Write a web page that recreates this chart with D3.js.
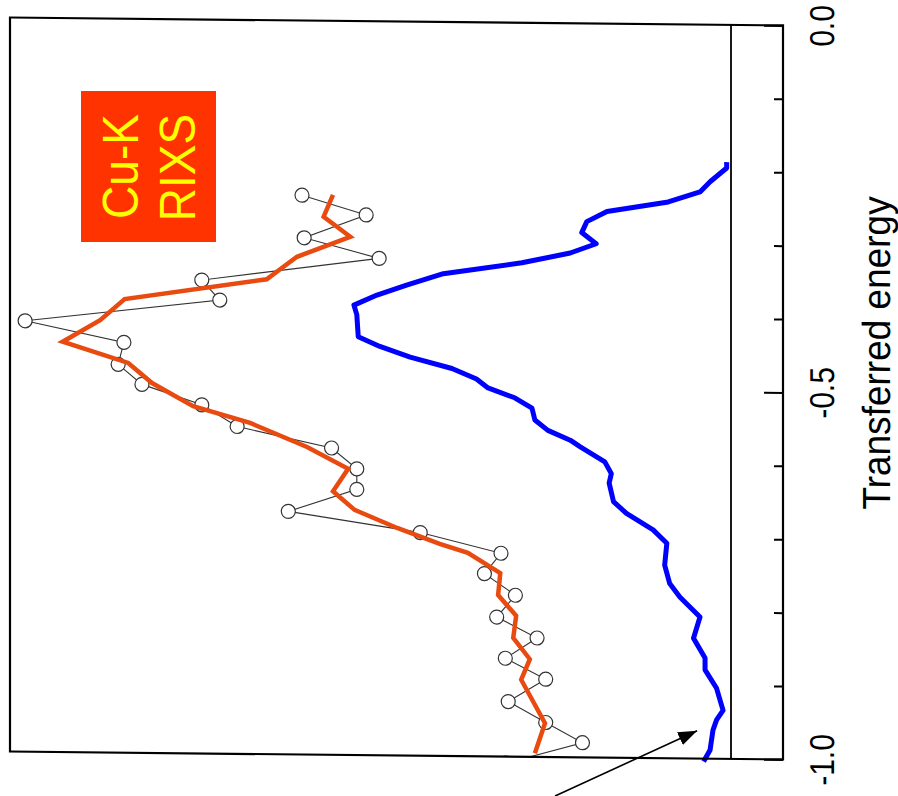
<!DOCTYPE html>
<html lang="en">
<head>
    <meta charset="UTF-8" />
    <script src="https://d3js.org/d3.v7.min.js"></script>
    <title>Cu-K RIXS</title>
    <style>
        body {
            margin: 0;
            overflow: hidden;
            background: white;
        }

        text {
            font-family: "Liberation Sans", Arial, sans-serif;
        }
    </style>
</head>
<body>
    <script>
        // energy axis (runs down the right side)
        const majorTicks = [0, -0.5, -1.0];
        const tickLabels = ["0.0", "-0.5", "-1.0"];
        const minorTicks = [-0.1, -0.2, -0.3, -0.4, -0.6, -0.7, -0.8, -0.9];

        // blue spectrum
        const blueEnergy = [-0.187, -0.195, -0.214, -0.228, -0.242, -0.256, -0.270, -0.285, -0.300, -0.313,
            -0.327, -0.343, -0.359, -0.373, -0.387, -0.400, -0.430, -0.443, -0.457, -0.472,
            -0.486, -0.498, -0.511, -0.525, -0.541, -0.555, -0.568, -0.577, -0.597, -0.613,
            -0.626, -0.651, -0.667, -0.689, -0.707, -0.737, -0.762, -0.780, -0.807, -0.836,
            -0.863, -0.879, -0.904, -0.934, -0.947, -0.961, -0.988, -1.004];
        const blueIntensity = [0.006, 0.006, 0.029, 0.043, 0.087, 0.172, 0.200, 0.207, 0.187, 0.223,
            0.290, 0.399, 0.450, 0.491, 0.523, 0.519, 0.517, 0.487, 0.445, 0.387,
            0.353, 0.337, 0.300, 0.276, 0.272, 0.254, 0.223, 0.209, 0.175, 0.166,
            0.169, 0.163, 0.145, 0.108, 0.089, 0.092, 0.085, 0.071, 0.043, 0.052,
            0.036, 0.036, 0.020, 0.011, 0.020, 0.025, 0.029, 0.038];

        // orange (smoothed) curve
        const orangeEnergy = [-0.237, -0.267, -0.294, -0.322, -0.353, -0.382, -0.411, -0.441, -0.469, -0.496,
            -0.527, -0.549, -0.581, -0.610, -0.641, -0.666, -0.690, -0.711, -0.723, -0.750,
            -0.780, -0.808, -0.838, -0.867, -0.895, -0.954, -0.995];
        const orangeIntensity = [0.552, 0.565, 0.528, 0.602, 0.644, 0.841, 0.875, 0.927, 0.836, 0.803,
            0.746, 0.667, 0.588, 0.531, 0.552, 0.522, 0.463, 0.404, 0.365, 0.320,
            0.323, 0.298, 0.302, 0.279, 0.291, 0.258, 0.272];

        // open circles (raw points)
        const pointEnergy = [-0.238, -0.264, -0.296, -0.323, -0.355, -0.382, -0.413, -0.441, -0.471, -0.498,
            -0.525, -0.554, -0.582, -0.610, -0.638, -0.669, -0.696, -0.723, -0.751, -0.780,
            -0.810, -0.838, -0.866, -0.894, -0.925, -0.953, -0.980, -1.009];
        const pointIntensity = [0.595, 0.506, 0.592, 0.488, 0.734, 0.709, 0.979, 0.842, 0.850, 0.817,
            0.734, 0.685, 0.554, 0.519, 0.519, 0.614, 0.431, 0.319, 0.342, 0.299,
            0.325, 0.269, 0.313, 0.257, 0.309, 0.257, 0.206, 0.312];

        // arrow annotation: [energy, intensity] of tail and head
        const arrowFrom = [-1.053, 0.244];
        const arrowTo = [-0.962, 0.047];

        const width = 898;
        const height = 796;

        const svg = d3.select('body')
            .append('svg')
            .attr('width', width)
            .attr('height', height);

        // the source picture is very slightly sheared
        const g = svg.append('g').attr('transform', 'skewY(0.59)');

        const y = d3.scaleLinear().domain([0, -1]).range([17.4, 751.4]);
        const x = d3.scaleLinear().domain([0, 1]).range([731, 10]);
        const right = 783;

        svg.append('defs').append('clipPath').attr('id', 'plotclip')
            .append('rect')
            .attr('x', 10).attr('y', y(0))
            .attr('width', right - 10).attr('height', y(-1) - y(0));

        svg.select('defs').append('marker')
            .attr('id', 'head')
            .attr('markerUnits', 'userSpaceOnUse')
            .attr('markerWidth', 19).attr('markerHeight', 14)
            .attr('refX', 19).attr('refY', 7)
            .attr('orient', 'auto')
            .append('path')
            .attr('d', 'M0,0 L19,7 L0,14 Z')
            .attr('fill', 'black');

        // Cu-K RIXS label box (not sheared)
        svg.append('rect')
            .attr('x', 81).attr('y', 91)
            .attr('width', 135).attr('height', 151)
            .attr('fill', '#ff3300');
        [["Cu-K", 138, 166.5], ["RIXS", 195, 167.5]].forEach(([t, tx, ty]) => {
            svg.append('text')
                .attr('transform', `translate(${tx},${ty}) rotate(-90) scale(1,1.08)`)
                .attr('text-anchor', 'middle')
                .attr('fill', '#ffff00')
                .style('font-size', '46px')
                .text(t);
        });

        const points = pointEnergy.map((e, i) => ({ e: e, v: pointIntensity[i] }));

        const line = d3.line()
            .x(d => x(d.v))
            .y(d => y(d.e));

        const pg = g.append('g').attr('clip-path', 'url(#plotclip)');

        pg.append('path')
            .datum(points)
            .attr('d', line)
            .attr('fill', 'none')
            .attr('stroke', '#333')
            .attr('stroke-width', 1.1);

        pg.selectAll('circle')
            .data(points)
            .join('circle')
            .attr('cx', d => x(d.v))
            .attr('cy', d => y(d.e))
            .attr('r', 7)
            .attr('fill', 'white')
            .attr('stroke', '#333')
            .attr('stroke-width', 1.2);

        g.append('path')
            .datum(orangeEnergy.map((e, i) => ({ e: e, v: orangeIntensity[i] })))
            .attr('d', line)
            .attr('fill', 'none')
            .attr('stroke', '#e84a10')
            .attr('stroke-width', 4.5)
            .attr('stroke-linejoin', 'miter');

        g.append('path')
            .datum(blueEnergy.map((e, i) => ({ e: e, v: blueIntensity[i] })))
            .attr('d', line)
            .attr('fill', 'none')
            .attr('stroke', '#0000ff')
            .attr('stroke-width', 5)
            .attr('stroke-linejoin', 'round');

        // frame and zero line
        g.append('rect')
            .attr('x', 10).attr('y', y(0))
            .attr('width', right - 10).attr('height', y(-1) - y(0))
            .attr('fill', 'none')
            .attr('stroke', 'black')
            .attr('stroke-width', 2.2);

        g.append('line')
            .attr('x1', x(0)).attr('x2', x(0))
            .attr('y1', y(0)).attr('y2', y(-1))
            .attr('stroke', 'black')
            .attr('stroke-width', 1.8);

        // energy axis on the right, ticks pointing inward
        g.append('g')
            .attr('transform', `translate(${right},0)`)
            .call(d3.axisLeft(y).tickValues(minorTicks).tickSize(9).tickSizeOuter(0).tickFormat(''))
            .call(a => a.select('.domain').remove())
            .selectAll('line').attr('stroke-width', 2);

        g.append('g')
            .attr('transform', `translate(${right},0)`)
            .call(d3.axisLeft(y).tickValues(majorTicks).tickSize(19).tickSizeOuter(0).tickFormat(''))
            .call(a => a.select('.domain').remove())
            .selectAll('line').attr('stroke-width', 2);

        majorTicks.forEach((v, i) => {
            g.append('text')
                .attr('transform', `translate(834,${y(v)}) rotate(-90) scale(1,1.15)`)
                .attr('text-anchor', 'middle')
                .attr('fill', 'black')
                .style('font-size', '30px')
                .text(tickLabels[i]);
        });

        g.append('text')
            .attr('transform', 'translate(890,344) rotate(-90) scale(1,1.06)')
            .attr('text-anchor', 'middle')
            .attr('fill', 'black')
            .style('font-size', '37px')
            .text('Transferred energy');

        // arrow pointing at the end of the blue curve
        g.append('line')
            .attr('x1', x(arrowFrom[1])).attr('y1', y(arrowFrom[0]))
            .attr('x2', x(arrowTo[1])).attr('y2', y(arrowTo[0]))
            .attr('stroke', 'black')
            .attr('stroke-width', 1.6)
            .attr('marker-end', 'url(#head)');
    </script>
</body>
</html>
